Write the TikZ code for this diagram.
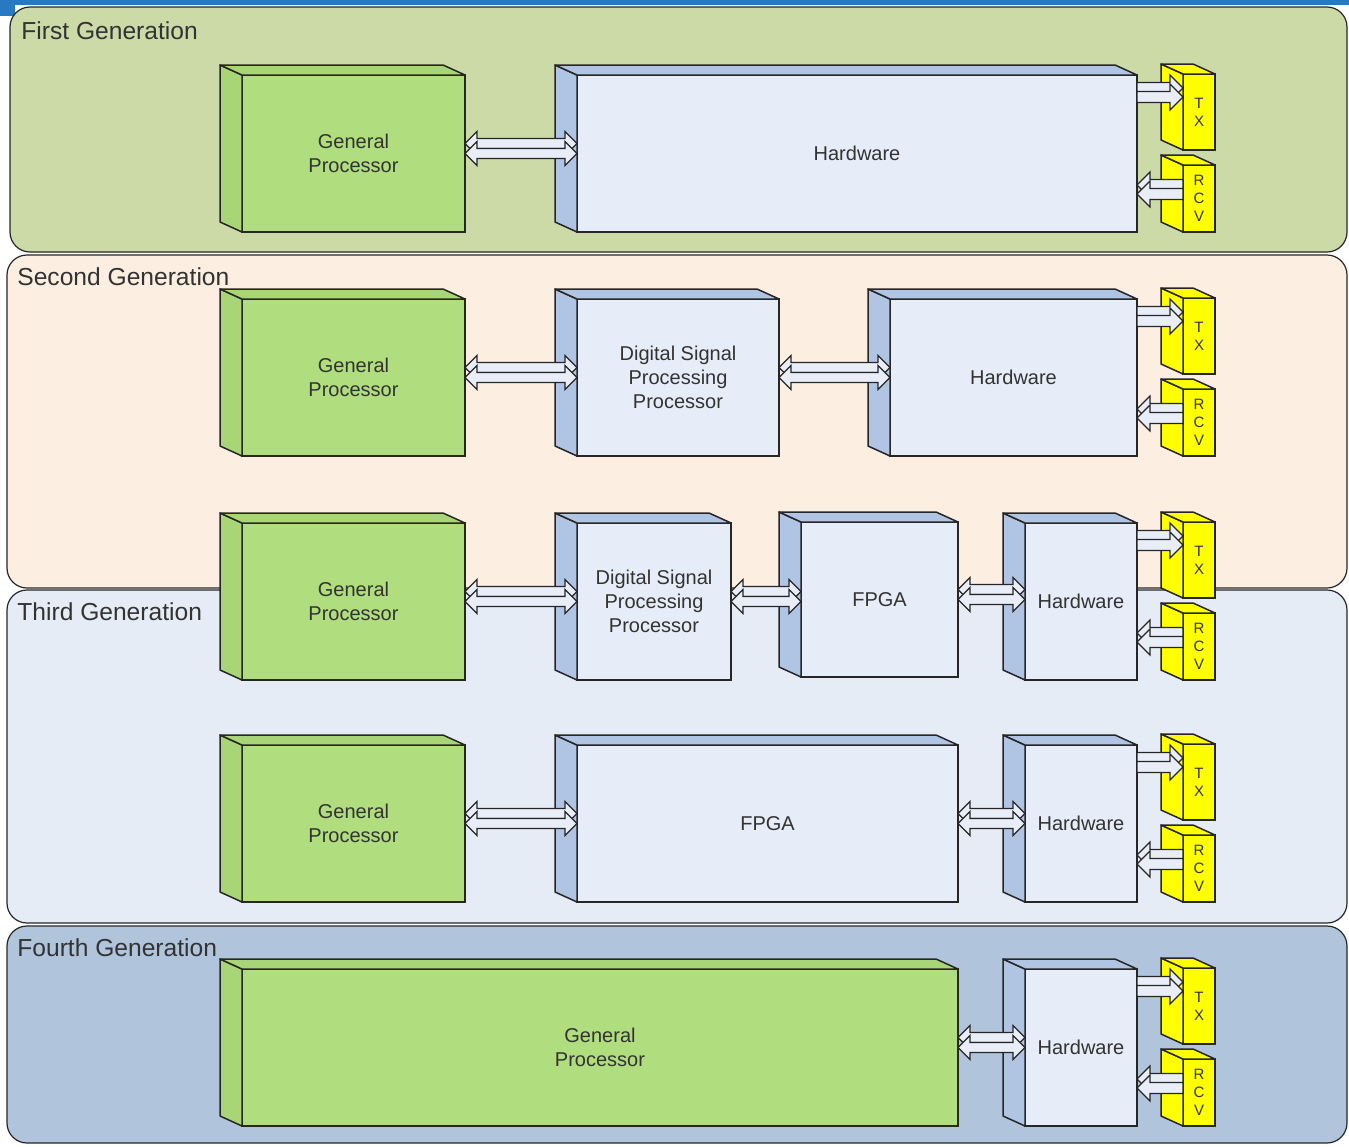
\documentclass[tikz,border=0pt]{standalone}
\usepackage{fontspec}
\setmainfont{Liberation Sans}
\usepackage{xcolor}
\usetikzlibrary{calc,fit}
\definecolor{genone}{HTML}{CCDAA8}
\definecolor{gentwo}{HTML}{FDEEE2}
\definecolor{genthree}{HTML}{E6ECF6}
\definecolor{genfour}{HTML}{B0C4DC}
\definecolor{cpugreen}{HTML}{B0DD7E}
\definecolor{cpugreenside}{HTML}{A8D677}
\definecolor{hwblue}{HTML}{E6ECF8}
\definecolor{hwblueside}{HTML}{B0C4E4}
\definecolor{radioyellow}{HTML}{FFFF00}
\definecolor{arrowfill}{HTML}{E8EDF8}
\definecolor{edge}{HTML}{262626}
\definecolor{ink}{HTML}{333333}
\definecolor{topbar}{HTML}{2779C1}

% 3D block: name, kind (gp/hw/radio), front face x1,y1,x2,y2, text
\newcommand{\blok}[7]{%
  \node[#2box,fit={(#3,#4) (#5,#6)}] (#1) {};
  \draw[#2side] (#1.north west) -- ++(-22,-10) -- ($(#1.south west)+(-22,-10)$)
        -- (#1.south west) -- cycle;
  \draw[#2side] (#1.north west) -- ++(-22,-10) -- ($(#1.north east)+(-22,-10)$)
        -- (#1.north east) -- cycle;
  \node[#2text] (#1t) at (#1.center) {#7};
}
% double block arrow between two blocks
\newcommand{\dubarrow}[2]{%
  \foreach \lift in {5pt,0pt}
  \draw[arr] let \p1=($(#1.east)+(0,\lift)$), \p2=(#2.west) in
    (\x1,\y1) -- (\x1+6pt,\y1+6pt) -- (\x1+6pt,\y1+2.5pt) -- (\x2-6pt,\y1+2.5pt)
    -- (\x2-6pt,\y1+6pt) -- (\x2,\y1) -- (\x2-6pt,\y1-6pt) -- (\x2-6pt,\y1-2.5pt)
    -- (\x1+6pt,\y1-2.5pt) -- (\x1+6pt,\y1-6pt) -- cycle;
}
% hardware -> TX
\newcommand{\txarrow}[2]{%
  \foreach \lift in {4.5pt,0pt}
  \draw[arr] let \p1=(#1.east), \p2=($(#2.north west)+(0,-11.5pt+\lift)$) in
    (\x1,\y2+2.75pt) -- (\x2-6.5pt,\y2+2.75pt) -- (\x2-6.5pt,\y2+6.5pt) -- (\x2,\y2)
    -- (\x2-6.5pt,\y2-6.5pt) -- (\x2-6.5pt,\y2-2.75pt) -- (\x1,\y2-2.75pt) -- cycle;
}
% RCV -> hardware
\newcommand{\rcvarrow}[2]{%
  \foreach \lift in {4.5pt,0pt}
  \draw[arr] let \p1=(#2.east), \p2=($(#1.north west)+(0,-14.5pt+\lift)$) in
    (\x1,\y2) -- (\x1+6.5pt,\y2+6.5pt) -- (\x1+6.5pt,\y2+2.75pt) -- (\x2,\y2+2.75pt)
    -- (\x2,\y2-2.75pt) -- (\x1+6.5pt,\y2-2.75pt) -- (\x1+6.5pt,\y2-6.5pt) -- cycle;
}

\begin{document}
\begin{tikzpicture}[x=0.5pt,y=-0.5pt,
    panel/.style    = {draw=edge,line width=0.6pt,rounded corners=10pt},
    glabel/.style   = {anchor=base west,inner sep=0pt,text=ink,font=\fontsize{12.3}{14}\selectfont},
    face/.style     = {draw=edge,line width=0.75pt,inner sep=0pt,outer sep=0pt},
    gpbox/.style    = {face,fill=cpugreen},
    hwbox/.style    = {face,fill=hwblue},
    radiobox/.style = {face,fill=radioyellow},
    gptext/.style   = {align=center,inner sep=0pt,text=ink,font=\fontsize{10}{12}\selectfont},
    hwtext/.style   = {gptext},
    radiotext/.style= {align=center,inner sep=0pt,text=ink,font=\fontsize{7.5}{9}\selectfont},
    gpside/.style   = {draw=edge,line width=0.75pt,line join=round,fill=cpugreenside},
    hwside/.style   = {draw=edge,line width=0.75pt,line join=round,fill=hwblueside},
    radioside/.style= {draw=edge,line width=0.75pt,line join=round,fill=radioyellow},
    arr/.style      = {draw=edge,line width=0.6pt,fill=arrowfill},
  ]
  \useasboundingbox (0,0) rectangle (1349,1146);

  % bar and generation panels
  \fill[topbar] (0,0) rectangle (1349,5);
  \fill[topbar] (0,0) rectangle (15,16);
  \draw[panel,fill=genone]   (10,7)   rectangle (1347,252);
  \draw[panel,fill=gentwo]   (7,255)  rectangle (1347,588);
  \draw[panel,fill=genthree] (7,590)  rectangle (1347,923);
  \draw[panel,fill=genfour]  (7,926)  rectangle (1347,1143);

  % first generation
  \blok{gpA}{gp}{242}{75}{465}{232}{General\\Processor}
  \blok{hwA}{hw}{577}{75}{1137}{232}{Hardware}
  \blok{txA}{radio}{1183}{74}{1215}{150}{T\\X}
  \blok{rcvA}{radio}{1183}{165}{1215}{232}{R\\C\\V}
  \dubarrow{gpA}{hwA}
  \txarrow{hwA}{txA}
  \rcvarrow{rcvA}{hwA}

  % second generation
  \blok{gpB}{gp}{242}{299}{465}{456}{General\\Processor}
  \blok{dspB}{hw}{577}{299}{779}{456}{Digital Signal\\Processing\\Processor}
  \blok{hwB}{hw}{890}{299}{1137}{456}{Hardware}
  \blok{txB}{radio}{1183}{298}{1215}{374}{T\\X}
  \blok{rcvB}{radio}{1183}{389}{1215}{456}{R\\C\\V}
  \dubarrow{gpB}{dspB}
  \dubarrow{dspB}{hwB}
  \txarrow{hwB}{txB}
  \rcvarrow{rcvB}{hwB}

  % third generation, with DSP
  \blok{gpC}{gp}{242}{523}{465}{680}{General\\Processor}
  \blok{dspC}{hw}{577}{523}{731}{680}{Digital Signal\\Processing\\Processor}
  \blok{fpgaC}{hw}{801}{522}{958}{677}{FPGA}
  \blok{hwC}{hw}{1025}{523}{1137}{680}{Hardware}
  \blok{txC}{radio}{1183}{522}{1215}{598}{T\\X}
  \blok{rcvC}{radio}{1183}{613}{1215}{680}{R\\C\\V}
  \dubarrow{gpC}{dspC}
  \dubarrow{dspC}{fpgaC}
  \dubarrow{fpgaC}{hwC}
  \txarrow{hwC}{txC}
  \rcvarrow{rcvC}{hwC}

  % third generation, FPGA only
  \blok{gpD}{gp}{242}{745}{465}{902}{General\\Processor}
  \blok{fpgaD}{hw}{577}{745}{958}{902}{FPGA}
  \blok{hwD}{hw}{1025}{745}{1137}{902}{Hardware}
  \blok{txD}{radio}{1183}{744}{1215}{820}{T\\X}
  \blok{rcvD}{radio}{1183}{835}{1215}{902}{R\\C\\V}
  \dubarrow{gpD}{fpgaD}
  \dubarrow{fpgaD}{hwD}
  \txarrow{hwD}{txD}
  \rcvarrow{rcvD}{hwD}

  % fourth generation
  \blok{gpE}{gp}{242}{969}{958}{1126}{General\\Processor}
  \blok{hwE}{hw}{1025}{969}{1137}{1126}{Hardware}
  \blok{txE}{radio}{1183}{968}{1215}{1044}{T\\X}
  \blok{rcvE}{radio}{1183}{1059}{1215}{1126}{R\\C\\V}
  \dubarrow{gpE}{hwE}
  \txarrow{hwE}{txE}
  \rcvarrow{rcvE}{hwE}

  % panel titles
  \node[glabel] (tA) at (21,39)  {First Generation};
  \node[glabel] (tB) at (17,285) {Second Generation};
  \node[glabel] (tC) at (17,620) {Third Generation};
  \node[glabel] (tD) at (17,956) {Fourth Generation};

\end{tikzpicture}
\end{document}
